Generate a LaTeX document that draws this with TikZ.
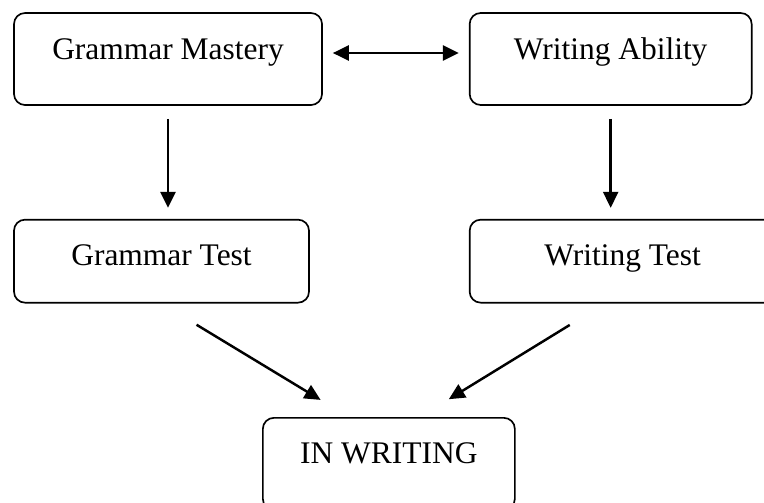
\documentclass[tikz,border=0pt]{standalone}
\usepackage{fontspec}
\setmainfont{Liberation Serif}
\usepackage{tikz}
\usetikzlibrary{arrows.meta, positioning}

\begin{document}
\begin{tikzpicture}[
    node distance=2.26cm,
    box/.style={rectangle, draw=black, line width=0.95pt, rounded corners=0.22cm, inner sep=0pt, align=center, text height=0.92cm, font=\fontsize{17.9}{21}\selectfont},
    arrow/.style={-{Triangle[length=0.32cm, width=0.3cm]}, line width=1.4pt, black}
]
\useasboundingbox (0,0) rectangle (15.28,-10.04);

\node[box, minimum width=6.16cm, text depth=0.92cm] (mastery) at (3.36,-1.18) {Grammar Mastery};
\node[box, minimum width=5.64cm, text depth=0.92cm, right=2.92cm of mastery] (ability) {Writing Ability};
\node[box, minimum width=5.9cm, text depth=0.74cm, below=of mastery.south west, anchor=north west] (gtest) {Grammar Test};
\node[box, minimum width=6.12cm, text depth=0.74cm, below=of ability.south west, anchor=north west] (wtest) {Writing Test};
\node[box, minimum width=5.04cm, text depth=0.92cm, anchor=north west] (inwriting) at (5.24,-8.34) {IN WRITING};

\draw[arrow, {Triangle[length=0.32cm, width=0.3cm]}-{Triangle[length=0.32cm, width=0.3cm]}, shorten <=0.2cm, shorten >=0.2cm] ([yshift=0.12cm]mastery.east) -- ([yshift=0.12cm]ability.west);
\draw[arrow, shorten <=0.26cm, shorten >=0.22cm] (mastery.south) -- (mastery.south |- gtest.north);
\draw[arrow, shorten <=0.26cm, shorten >=0.22cm] (ability.south) -- (ability.south |- wtest.north);
\draw[arrow, shorten <=0.82cm, shorten >=0.66cm] (gtest.south) -- ([xshift=-0.8cm]inwriting.north);
\draw[arrow, shorten <=0.82cm, shorten >=0.68cm] ([xshift=-0.36cm]wtest.south) -- ([xshift=0.62cm]inwriting.north);

\end{tikzpicture}
\end{document}
